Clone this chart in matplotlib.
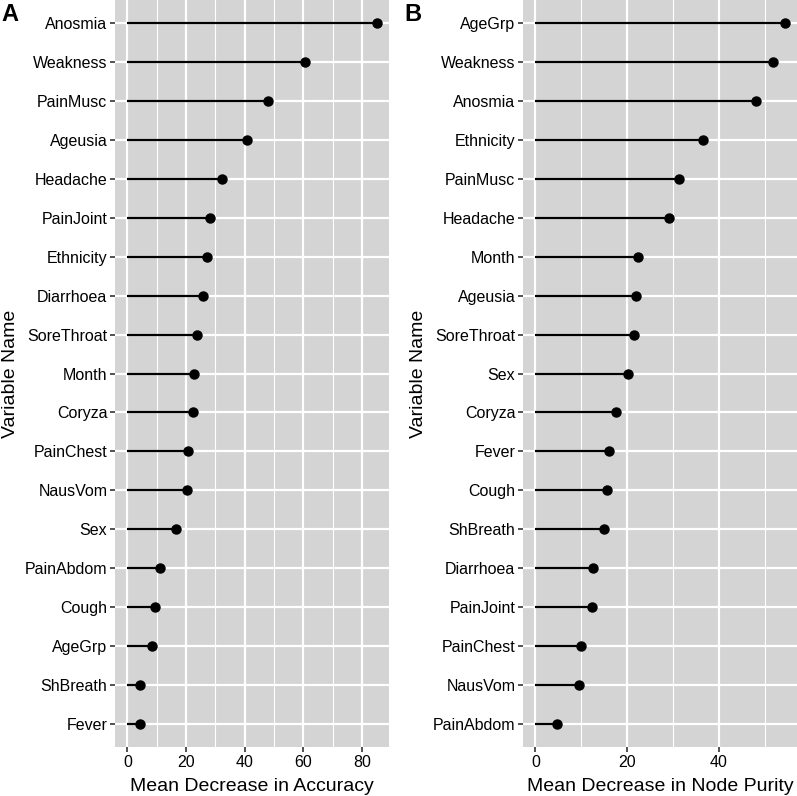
import matplotlib.pyplot as plt
from matplotlib.ticker import MultipleLocator

plt.rcParams['font.family'] = ['Liberation Sans', 'DejaVu Sans']

# panel A: mean decrease in accuracy (top to bottom)
acc_names = ['Anosmia', 'Weakness', 'PainMusc', 'Ageusia', 'Headache', 'PainJoint',
             'Ethnicity', 'Diarrhoea', 'SoreThroat', 'Month', 'Coryza', 'PainChest',
             'NausVom', 'Sex', 'PainAbdom', 'Cough', 'AgeGrp', 'ShBreath', 'Fever']
acc_values = [85.0, 60.5, 48.0, 40.8, 32.3, 28.2, 27.2, 25.9, 23.8, 22.8, 22.4, 20.7,
              20.4, 16.7, 11.2, 9.5, 8.5, 4.4, 4.4]

# panel B: mean decrease in node purity (top to bottom)
pur_names = ['AgeGrp', 'Weakness', 'Anosmia', 'Ethnicity', 'PainMusc', 'Headache',
             'Month', 'Ageusia', 'SoreThroat', 'Sex', 'Coryza', 'Fever', 'Cough',
             'ShBreath', 'Diarrhoea', 'PainJoint', 'PainChest', 'NausVom', 'PainAbdom']
pur_values = [54.3, 51.7, 48.0, 36.5, 31.3, 29.1, 22.4, 22.0, 21.5, 20.2, 17.6, 16.1,
              15.7, 15.0, 12.6, 12.4, 10.0, 9.6, 4.6]

fig = plt.figure(figsize=(7.97, 7.96), dpi=100)
W, H = 797, 796


def lollipop(ax, names, values, xlabel, major, letter, letter_x):
    n = len(names)
    ys = list(range(n - 1, -1, -1))
    ax.set_facecolor('#d4d4d4')
    ax.hlines(ys, 0, values, color='black', lw=1.6, zorder=3)
    ax.plot(values, ys, 'o', color='black', ms=6.5, zorder=4)
    vmax = max(values)
    pad = vmax * 0.05
    ax.set_xlim(-pad, vmax + pad)
    ax.set_ylim(-0.6, n - 1 + 0.6)
    ax.set_yticks(ys)
    ax.set_yticklabels(names)
    ax.xaxis.set_major_locator(MultipleLocator(major))
    ax.xaxis.set_minor_locator(MultipleLocator(major / 2))
    ax.grid(which='major', color='white', lw=1.6)
    ax.grid(which='minor', axis='x', color='white', lw=0.8)
    ax.set_axisbelow(True)
    for s in ax.spines.values():
        s.set_visible(False)
    ax.tick_params(which='major', length=3.5, width=1.2, color='#333333',
                   labelsize=11.5, labelcolor='black', pad=2)
    ax.tick_params(which='minor', length=0)
    ax.set_xlabel(xlabel, fontsize=14, labelpad=6)
    ax.set_ylabel('Variable Name', fontsize=14, labelpad=4)
    fig.text(letter_x / W, 1 - 3 / H, letter, fontsize=17, fontweight='bold',
             ha='left', va='top')


ax1 = fig.add_axes([115 / W, 49 / H, 274 / W, 747 / H])
lollipop(ax1, acc_names, acc_values, 'Mean Decrease in Accuracy', 20, 'A', 1)

ax2 = fig.add_axes([523 / W, 49 / H, 274 / W, 747 / H])
lollipop(ax2, pur_names, pur_values, 'Mean Decrease in Node Purity', 20, 'B', 404)

fig.savefig('out.png', dpi=100)
